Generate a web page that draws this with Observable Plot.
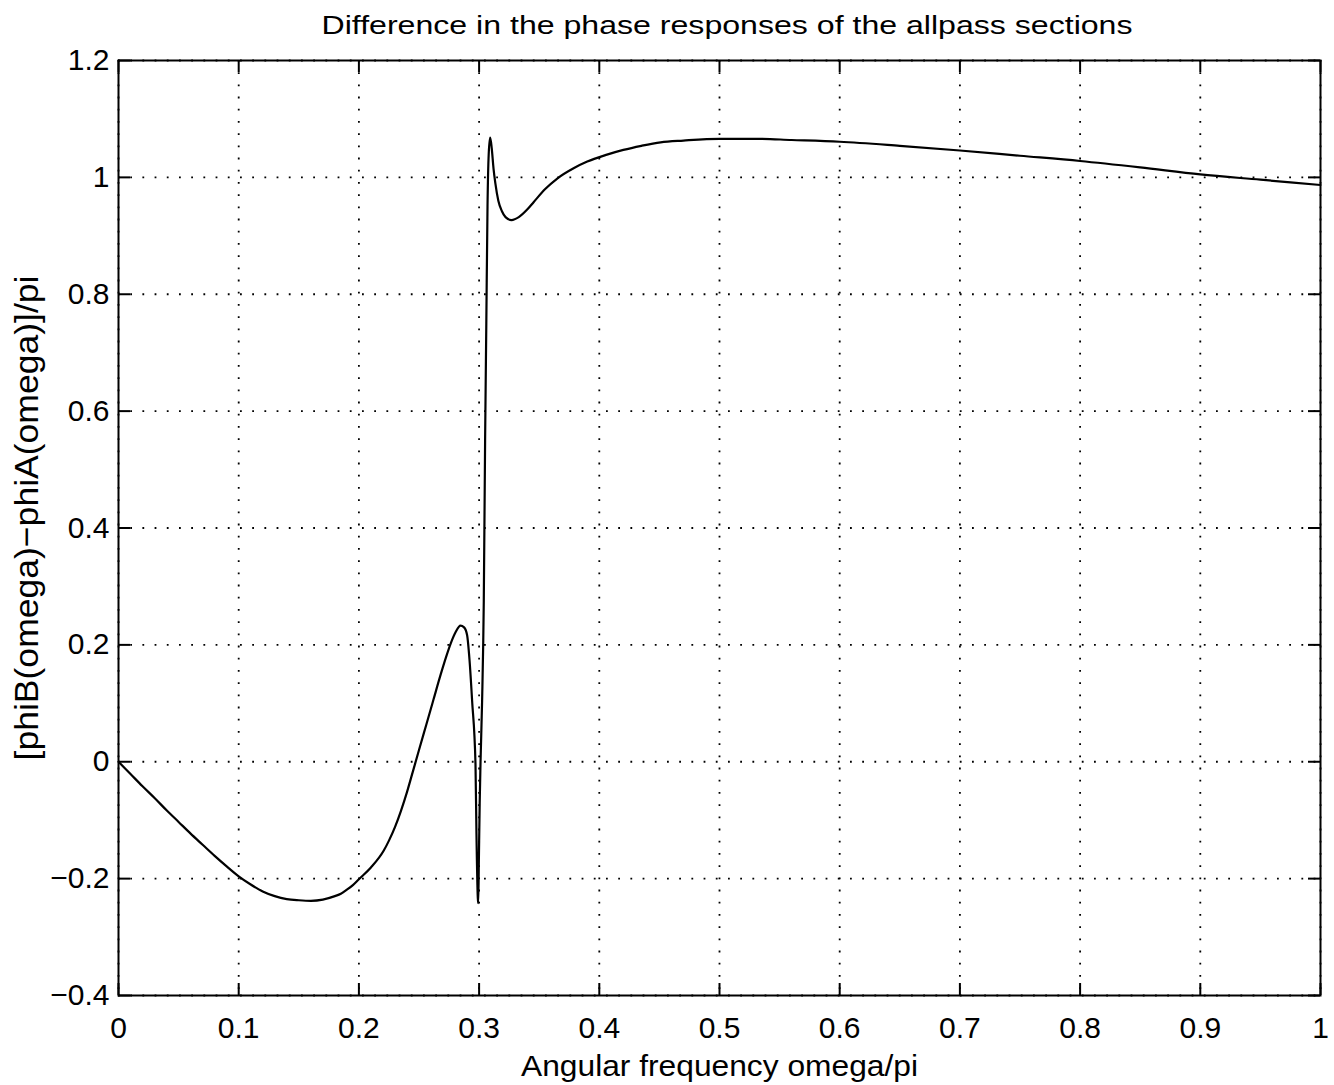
<!DOCTYPE html>
<html><head><meta charset="utf-8">
<script src="https://cdn.jsdelivr.net/npm/d3@7"></script>
<script src="https://cdn.jsdelivr.net/npm/@observablehq/plot@0.6"></script>
<style>
body{margin:0;background:#fff;font-family:"Liberation Sans",Arial,Helvetica,sans-serif;}
#title svg,#chart svg{display:block;}
</style></head><body>
<div id="title"></div>
<div id="chart"></div>
<script>
const titleText = "Difference in the phase responses of the allpass sections";
const xLabel = "Angular frequency omega/pi";
const yLabel = "[phiB(omega)\u2212phiA(omega)]/pi";
const xTicks = [0, 0.1, 0.2, 0.3, 0.4, 0.5, 0.6, 0.7, 0.8, 0.9, 1];
const yTicks = [-0.4, -0.2, 0, 0.2, 0.4, 0.6, 0.8, 1, 1.2];

// omega/pi samples and the read-off phase difference / pi
const omega = [
  0, 0.01, 0.02, 0.03, 0.04, 0.05, 0.06, 0.07, 0.08, 0.09, 0.10,
  0.11, 0.12, 0.13, 0.14, 0.15, 0.16, 0.17, 0.18, 0.185, 0.19, 0.195, 0.20,
  0.21, 0.2207, 0.225, 0.23, 0.235, 0.24, 0.245, 0.25, 0.256, 0.262, 0.268, 0.2725, 0.2765, 0.2805,
  0.2845, 0.2875, 0.290, 0.292, 0.2942, 0.297, 0.2978, 0.2989, 0.2993,
  0.2998, 0.3005, 0.3012, 0.3025, 0.3039, 0.305, 0.306, 0.307,
  0.308, 0.3092, 0.3105, 0.312, 0.3135, 0.316, 0.319, 0.322, 0.327,
  0.333, 0.34, 0.3455, 0.355, 0.365, 0.379, 0.39, 0.405, 0.42, 0.435,
  0.451, 0.47, 0.5, 0.53, 0.56, 0.6, 0.65, 0.7, 0.75, 0.8, 0.85, 0.9, 0.95, 1.0
];
const phaseDiff = [
  0, -0.021, -0.042, -0.062, -0.083, -0.103, -0.123, -0.142, -0.161, -0.179, -0.196,
  -0.210, -0.222, -0.230, -0.235, -0.237, -0.238, -0.236, -0.230, -0.226, -0.219, -0.211, -0.201,
  -0.181, -0.152, -0.135, -0.112, -0.084, -0.052, -0.016, 0.020, 0.063, 0.106, 0.149, 0.179, 0.203, 0.222,
  0.233, 0.230, 0.217, 0.175, 0.104, -0.004, -0.123, -0.232, -0.242,
  -0.170, -0.070, 0.0, 0.104, 0.275, 0.550, 0.750, 0.950,
  1.040, 1.068, 1.050, 1.015, 0.990, 0.960, 0.942, 0.932, 0.927,
  0.932, 0.945, 0.958, 0.980, 0.998, 1.016, 1.027, 1.038, 1.047, 1.054,
  1.060, 1.063, 1.066, 1.066, 1.064, 1.061, 1.054, 1.046, 1.037, 1.028, 1.017, 1.005, 0.996, 0.987
];
const data = omega.map((x, i) => ({x, y: phaseDiff[i]}));

const fmt = d => d < 0 ? "\u2212" + String(Math.abs(d)) : String(d);

// Title
const titleH = 42;
const tsvg = d3.create("svg").attr("width", 1334).attr("height", titleH);
tsvg.append("text")
  .attr("x", 727).attr("y", 34)
  .attr("text-anchor", "middle")
  .attr("font-family", '"Liberation Sans",Arial,sans-serif')
  .attr("font-size", 26)
  .attr("textLength", 811).attr("lengthAdjust", "spacingAndGlyphs")
  .text(titleText);
document.getElementById("title").append(tsvg.node());

const W = 1334, H = 1085 - titleH, mt = 60 - titleH, mb = 90, ml = 118, mr = 14;
const iw = W - ml - mr, ih = H - mt - mb, tl = 12;

const chart = Plot.plot({
  width: W, height: H,
  marginTop: mt, marginBottom: mb, marginLeft: ml, marginRight: mr,
  style: {fontFamily: '"Liberation Sans",Arial,sans-serif', background: "white", color: "black"},
  x: {domain: [0, 1]},
  y: {domain: [-0.4, 1.2]},
  marks: [
    Plot.gridX(xTicks, {stroke: "black", strokeOpacity: 1, strokeWidth: 1.8, strokeDasharray: "1.8,10.4"}),
    Plot.gridY(yTicks, {stroke: "black", strokeOpacity: 1, strokeWidth: 1.8, strokeDasharray: "1.8,10.4"}),
    Plot.tickX(xTicks, {x: d => d, insetTop: ih - tl, stroke: "black", strokeWidth: 2}),
    Plot.tickX(xTicks, {x: d => d, insetBottom: ih - tl, stroke: "black", strokeWidth: 2}),
    Plot.tickY(yTicks, {y: d => d, insetRight: iw - tl, stroke: "black", strokeWidth: 2}),
    Plot.tickY(yTicks, {y: d => d, insetLeft: iw - tl, stroke: "black", strokeWidth: 2}),
    Plot.line(data, {x: "x", y: "y", stroke: "black", strokeWidth: 2.2, curve: "monotone-x"}),
    Plot.frame({stroke: "black", strokeWidth: 2}),
    Plot.axisX(xTicks, {anchor: "bottom", tickSize: 0, tickPadding: 21, fontSize: 30, tickFormat: fmt,
      label: xLabel, labelAnchor: "center", labelOffset: 80, labelArrow: "none"}),
    Plot.axisY(yTicks, {anchor: "left", tickSize: 0, tickPadding: 9, fontSize: 30, tickFormat: fmt,
      label: yLabel, labelAnchor: "center", labelOffset: 105, labelArrow: "none"})
  ]
});
document.getElementById("chart").append(chart);
d3.select(chart).selectAll('g[aria-label="x-axis label"] text')
  .attr("font-size", 30).attr("textLength", 397).attr("lengthAdjust", "spacingAndGlyphs");
d3.select(chart).selectAll('g[aria-label="y-axis label"] text')
  .attr("font-size", 34).attr("dx", 10).attr("textLength", 485).attr("lengthAdjust", "spacingAndGlyphs");
</script>
</body></html>
